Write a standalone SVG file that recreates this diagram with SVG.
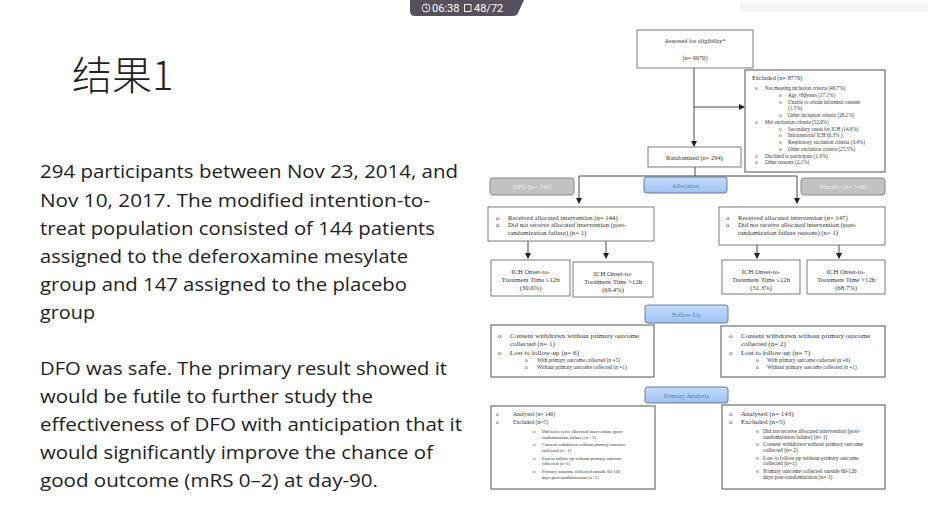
<svg xmlns="http://www.w3.org/2000/svg" width="930" height="518" viewBox="0 0 930 518">
<style>
.body{font-family:"Open Sans","Noto Sans",sans-serif;font-size:17.5px;fill:#1e1e1e}
.title{font-family:"Noto Sans CJK SC","Noto Sans",sans-serif;font-size:40px;font-weight:300;fill:#222}
.box{fill:#fff;stroke:#6e6e6e;stroke-width:0.9}
.box2{fill:#fff;stroke:#7a7a7a;stroke-width:1.3}
.t{font-family:"Liberation Serif","Times New Roman",serif;fill:#333}
.c{text-anchor:middle}
.stage{fill:url(#blue);stroke:#5b6f90;stroke-width:0.9}
.stt{font-family:"Liberation Serif",serif;font-size:6.5px;fill:#5a7bb0;text-anchor:middle}
.grp{fill:#c2c2c2;stroke:#8a8a8a;stroke-width:1}
.grt{font-family:"Liberation Serif",serif;font-size:6.8px;fill:#ececec;text-anchor:middle}
.ln{stroke:#333;stroke-width:0.9;fill:none}
.ov{font-family:"Roboto","DejaVu Sans",sans-serif;font-size:11px;fill:#fff}
</style>
<defs>
<linearGradient id="blue" x1="0" y1="0" x2="0" y2="1">
<stop offset="0" stop-color="#c3dbfb"/><stop offset="1" stop-color="#9fc2f2"/>
</linearGradient>
<marker id="ah" markerWidth="6" markerHeight="6" refX="5" refY="3" orient="auto" markerUnits="userSpaceOnUse">
<path d="M0,0 L6,3 L0,6 Z" fill="#222"/>
</marker>
</defs>
<rect width="930" height="518" fill="#fff"/>
<rect x="740" y="3" width="188" height="9" fill="#f6f6f6"/>

<g id="overlay">
<path d="M410,0 L524,0 L518,13 Q517,16 513,16 L415,16 Q410,16 410,11 Z" fill="#56505c"/>
<circle cx="426" cy="8" r="4" fill="none" stroke="#fff" stroke-width="1"/>
<path d="M426,5.5 L426,8 L428,9" stroke="#fff" stroke-width="0.8" fill="none"/>
<text class="ov" x="432" y="12">06:38</text>
<rect x="464.5" y="4.5" width="6.5" height="7" fill="none" stroke="#fff" stroke-width="0.9"/>
<text class="ov" x="474" y="12">48/72</text>
</g>

<g id="title"><text class="title" x="72" y="90">结果1</text></g>

<g id="paragraph1">
<text class="body" x="40" y="178" textLength="418" lengthAdjust="spacingAndGlyphs">294 participants between Nov 23, 2014, and</text>
<text class="body" x="40" y="207" textLength="390" lengthAdjust="spacingAndGlyphs">Nov 10, 2017. The modified intention-to-</text>
<text class="body" x="40" y="235" textLength="395" lengthAdjust="spacingAndGlyphs">treat population consisted of 144 patients</text>
<text class="body" x="40" y="263" textLength="368" lengthAdjust="spacingAndGlyphs">assigned to the deferoxamine mesylate</text>
<text class="body" x="40" y="291" textLength="367" lengthAdjust="spacingAndGlyphs">group and 147 assigned to the placebo</text>
<text class="body" x="40" y="319" textLength="55" lengthAdjust="spacingAndGlyphs">group</text>
</g>
<g id="paragraph2">
<text class="body" x="40" y="375" textLength="407" lengthAdjust="spacingAndGlyphs">DFO was safe. The primary result showed it</text>
<text class="body" x="40" y="403" textLength="333" lengthAdjust="spacingAndGlyphs">would be futile to further study the</text>
<text class="body" x="40" y="431" textLength="422" lengthAdjust="spacingAndGlyphs">effectiveness of DFO with anticipation that it</text>
<text class="body" x="40" y="459" textLength="393" lengthAdjust="spacingAndGlyphs">would significantly improve the chance of</text>
<text class="body" x="40" y="487" textLength="338" lengthAdjust="spacingAndGlyphs">good outcome (mRS 0–2) at day-90.</text>
</g>

<g id="connectors">
<path class="ln" d="M694,68 L694,146" marker-end="url(#ah)"/>
<path class="ln" d="M694,107 L744,107" marker-end="url(#ah)"/>
<path class="ln" d="M695,167 L695,176 M579,176 L797,176"/>
<path class="ln" d="M579,176 L579,203" marker-end="url(#ah)"/>
<path class="ln" d="M797,176 L797,203" marker-end="url(#ah)"/>
<path class="ln" d="M528,241 L528,258" marker-end="url(#ah)"/>
<path class="ln" d="M606,241 L606,258" marker-end="url(#ah)"/>
<path class="ln" d="M757,245 L757,258" marker-end="url(#ah)"/>
<path class="ln" d="M839,245 L839,258" marker-end="url(#ah)"/>
</g>

<g id="assessed">
<rect class="box" x="637" y="30" width="116" height="38"/>
<text class="t c" x="695" y="43" font-size="6.3">Assessed for eligibility*</text>
<text class="t c" x="695" y="60" font-size="6.3">(n= 9070)</text>
</g>

<g id="excluded" class="t">
<rect class="box2" x="745" y="70" width="140" height="102"/>
<text x="752" y="80" font-size="6.3">Excluded (n= 8776)</text>
<g font-size="5.2">
<text x="755" y="90">o</text><text x="765" y="90">Not meeting inclusion criteria (46.7%)</text>
<text x="779" y="97">o</text><text x="788" y="97">Age &gt;80years (17.1%)</text>
<text x="779" y="103.5">o</text><text x="788" y="103.5">Unable to obtain informed consent</text>
<text x="788" y="109.5">(1.5%)</text>
<text x="779" y="116.5">o</text><text x="788" y="116.5">Other inclusion criteria (28.1%)</text>
<text x="755" y="123.5">o</text><text x="765" y="123.5">Met exclusion criteria (52.0%)</text>
<text x="779" y="130.5">o</text><text x="788" y="130.5">Secondary cause for ICH (14.8%)</text>
<text x="779" y="137">o</text><text x="788" y="137">Infratentorial ICH (6.3% )</text>
<text x="779" y="143.5">o</text><text x="788" y="143.5">Respiratory exclusion criteria (3.4%)</text>
<text x="779" y="150.5">o</text><text x="788" y="150.5">Other exclusion criteria (27.5%)</text>
<text x="755" y="157.5">o</text><text x="765" y="157.5">Declined to participate (1.3%)</text>
<text x="755" y="164">o</text><text x="765" y="164">Other reasons (2.1%)</text>
</g>
</g>

<g id="randomized">
<rect class="box" x="648" y="147" width="93" height="20"/>
<text class="t c" x="694.5" y="159.5" font-size="6.5">Randomized (n= 294)</text>
</g>

<g id="allocation">
<rect class="stage" x="644" y="177" width="83" height="16" rx="2.5"/>
<text class="stt" x="685.5" y="187.5">Allocation</text>
</g>
<g id="dfo">
<rect class="grp" x="490" y="178" width="84" height="17" rx="3"/>
<text class="grt" x="532" y="189">DFO (n= 145)</text>
</g>
<g id="placebo">
<rect class="grp" x="801" y="178" width="84" height="17" rx="3"/>
<text class="grt" x="843" y="189">Placebo (n= 146)</text>
</g>

<g id="received-dfo" class="t" font-size="6.7">
<rect class="box" x="488" y="207" width="166" height="34"/>
<text x="496" y="219.5">o</text><text x="508" y="219.5">Received allocated intervention (n= 144)</text>
<text x="496" y="227">o</text><text x="508" y="227">Did not receive allocated intervention (post-</text>
<text x="508" y="234.5">randomization failure) (n= 1)</text>
</g>
<g id="received-placebo" class="t" font-size="6.7">
<rect class="box" x="719" y="207" width="166" height="38"/>
<text x="726" y="219.5">o</text><text x="738" y="219.5">Received allocated intervention (n= 147)</text>
<text x="726" y="227">o</text><text x="738" y="227">Did not receive allocated intervention (post-</text>
<text x="738" y="234.5">randomization failure reasons) (n= 1)</text>
</g>

<g id="ich-dfo-le12" class="t c" font-size="6.7">
<rect class="box" x="491" y="260" width="79" height="36"/>
<text x="530.5" y="274">ICH Onset-to-</text>
<text x="530.5" y="282">Treatment Time ≤12h</text>
<text x="530.5" y="290">(30.6%)</text>
</g>
<g id="ich-dfo-gt12" class="t c" font-size="6.7">
<rect class="box" x="573" y="262" width="80" height="35"/>
<text x="613" y="276">ICH Onset-to-</text>
<text x="613" y="284">Treatment Time &gt;12h</text>
<text x="613" y="292">(69.4%)</text>
</g>
<g id="ich-pl-le12" class="t c" font-size="6.7">
<rect class="box" x="722" y="260" width="78" height="34"/>
<text x="761" y="273.5">ICH Onset-to-</text>
<text x="761" y="281.5">Treatment Time ≤12h</text>
<text x="761" y="289.5">(31.3%)</text>
</g>
<g id="ich-pl-gt12" class="t c" font-size="6.7">
<rect class="box" x="807" y="260" width="78" height="34"/>
<text x="846" y="273.5">ICH Onset-to-</text>
<text x="846" y="281.5">Treatment Time &gt;12h</text>
<text x="846" y="289.5">(68.7%)</text>
</g>

<g id="followup">
<rect class="stage" x="645" y="305" width="83" height="18" rx="2.5"/>
<text class="stt" x="686.5" y="316.5">Follow-Up</text>
</g>
<g id="followup-dfo" class="t">
<rect class="box2" x="491" y="325" width="163" height="52"/>
<g font-size="7.1">
<text x="498" y="338">o</text><text x="510" y="338">Consent withdrawn without primary outcome</text>
<text x="510" y="346">collected (n= 1)</text>
<text x="498" y="354.5">o</text><text x="510" y="354.5">Lost to follow-up (n= 6)</text>
</g>
<g font-size="5.3">
<text x="525" y="362">o</text><text x="537" y="362">With primary outcome collected (n =5)</text>
<text x="525" y="369">o</text><text x="537" y="369">Without primary outcome collected (n =1)</text>
</g>
</g>
<g id="followup-placebo" class="t">
<rect class="box2" x="721" y="326" width="164" height="51"/>
<g font-size="7.1">
<text x="729" y="338">o</text><text x="741" y="338">Consent withdrawn without primary outcome</text>
<text x="741" y="346">collected (n= 2)</text>
<text x="729" y="354.5">o</text><text x="741" y="354.5">Lost to follow-up (n= 7)</text>
</g>
<g font-size="5.3">
<text x="756" y="362">o</text><text x="767" y="362">With primary outcome collected (n =6)</text>
<text x="756" y="369">o</text><text x="767" y="369">Without primary outcome collected (n =1)</text>
</g>
</g>

<g id="primary-analysis">
<rect class="stage" x="645" y="387" width="83" height="16" rx="2.5"/>
<text class="stt" x="686.5" y="397.5">Primary Analysis</text>
</g>
<g id="analysis-dfo" class="t">
<rect class="box2" x="491" y="406" width="164" height="83"/>
<g font-size="5.6">
<text x="496" y="416">o</text><text x="513" y="416">Analysed (n= 140)</text>
<text x="496" y="424">o</text><text x="513" y="424">Excluded (n=5)</text>
</g>
<g font-size="4.6">
<text x="533" y="433">o</text><text x="542" y="433">Did not receive allocated intervention (post-</text>
<text x="542" y="438.5">randomization failure) (n= 1)</text>
<text x="533" y="446">o</text><text x="542" y="446">Consent withdrawn without primary outcome</text>
<text x="542" y="451.5">collected (n= 1)</text>
<text x="533" y="459.5">o</text><text x="542" y="459.5">Lost to follow-up without primary outcome</text>
<text x="542" y="465">collected (n=1)</text>
<text x="533" y="473">o</text><text x="542" y="473">Primary outcome collected outside 60-120</text>
<text x="542" y="478.5">days post-randomization (n=2)</text>
</g>
</g>
<g id="analysis-placebo" class="t">
<rect class="box2" x="722" y="405" width="163" height="84"/>
<g font-size="7">
<text x="729" y="416">o</text><text x="741" y="416">Analysed (n= 143)</text>
<text x="729" y="424">o</text><text x="741" y="424">Excluded (n=5)</text>
</g>
<g font-size="5.5">
<text x="756" y="433">o</text><text x="763" y="433">Did not receive allocated intervention (post-</text>
<text x="763" y="438.5">randomization failure) (n= 1)</text>
<text x="756" y="446">o</text><text x="763" y="446">Consent withdrawn without primary outcome</text>
<text x="763" y="451.5">collected (n= 2)</text>
<text x="756" y="459.5">o</text><text x="763" y="459.5">Lost to follow-up without primary outcome</text>
<text x="763" y="465">collected (n=1)</text>
<text x="756" y="473">o</text><text x="763" y="473">Primary outcome collected outside 60-120</text>
<text x="763" y="478.5">days post-randomization (n= 1)</text>
</g>
</g>
</svg>
